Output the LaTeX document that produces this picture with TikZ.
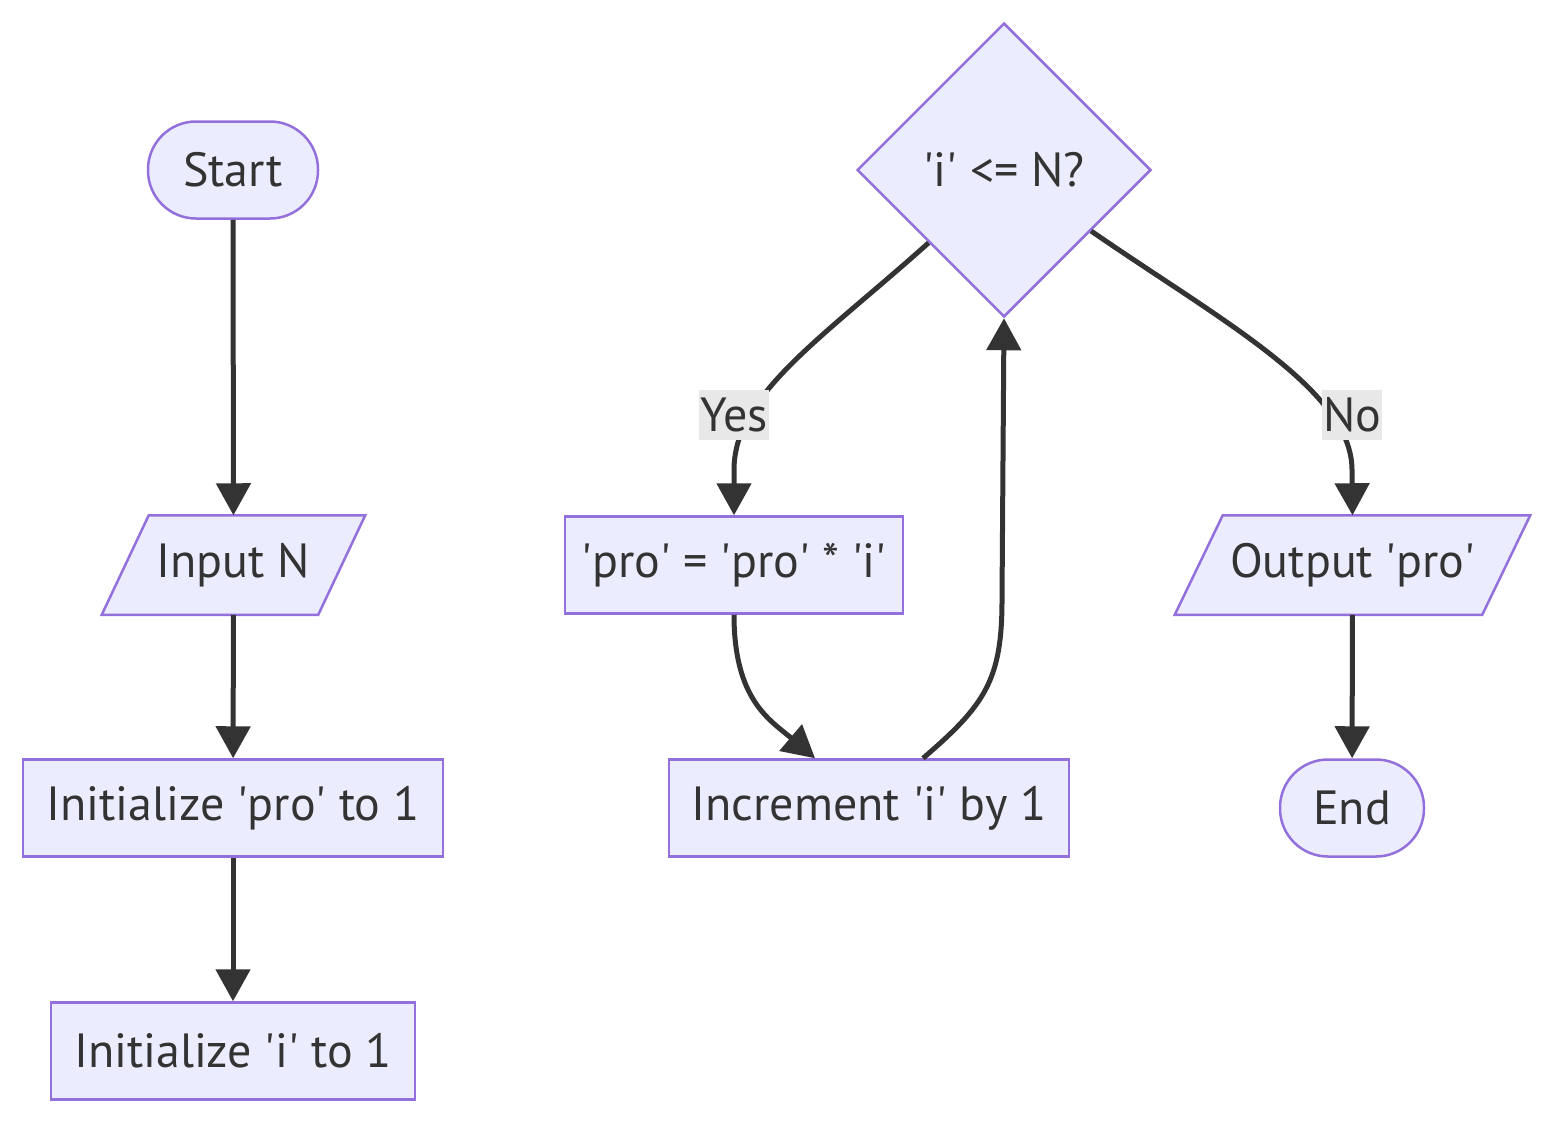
\documentclass[tikz,border=0pt]{standalone}
\usepackage{fontspec}
\setmainfont{PT Sans}
\usetikzlibrary{shapes.geometric,arrows.meta}
\definecolor{nodefill}{HTML}{ECECFF}
\definecolor{bord}{HTML}{9370DB}
\definecolor{txt}{HTML}{333333}
\definecolor{lblbg}{HTML}{E8E8E8}
\newcommand\sq{\textquotesingle}
\pgfdeclarelayer{bg}
\pgfsetlayers{bg,main}
\tikzset{
  base/.style={draw=bord, fill=nodefill, line width=2.5pt, text=txt, inner sep=0pt,
    font=\fontsize{48}{56}\selectfont, minimum height=97pt},
  box/.style={base, rectangle},
  term/.style={base, rectangle, rounded corners=48pt},
  para/.style={base, draw=none, fill=none, rectangle},
  parashape/.style={draw=bord, fill=nodefill, line width=2.5pt, line join=miter},
  dec/.style={base, diamond, minimum width=294pt, minimum height=294pt},
  edge/.style={draw=txt, line width=5pt, -{Triangle[length=32pt,width=34pt]}},
  lbl/.style={fill=lblbg, text=txt, inner xsep=1pt, inner ysep=0pt,
    font=\fontsize{48}{56}\selectfont, minimum height=50pt}
}
\begin{document}
\begin{tikzpicture}[x=1pt,y=-1pt]
\useasboundingbox (0,0) rectangle (1568,1136);
\node[term, minimum width=170pt] (start) at (233,170) {Start};
\node[para, minimum width=261pt] (inp) at (233.5,565) {Input N};
\node[box, minimum width=420pt] (ipro) at (233,808) {Initialize \sq pro\sq{} to 1};
\node[box, minimum width=364pt] (ii) at (233,1051) {Initialize \sq i\sq{} to 1};
\node[dec] (d) at (1004,170) {\sq i\sq{} <= N?};
\node[box, minimum width=338pt] (pro) at (734,565) {\sq pro\sq{} = \sq pro\sq{} * \sq i\sq};
\node[box, minimum width=400pt] (inc) at (869,808) {Increment \sq i\sq{} by 1};
\node[para, minimum width=353pt] (out) at (1352.5,565) {Output \sq pro\sq};
\node[term, minimum width=144pt] (end) at (1352,808) {End};

\begin{pgfonlayer}{bg}
\draw[parashape] (inp.south west) -- ([xshift=47pt]inp.north west) -- (inp.north east)
  -- ([xshift=-47pt]inp.south east) -- cycle;
\draw[parashape] (out.south west) -- ([xshift=48pt]out.north west) -- (out.north east)
  -- ([xshift=-48pt]out.south east) -- cycle;
\end{pgfonlayer}

\draw[edge] (start) -- (inp);
\draw[edge] (inp) -- (ipro);
\draw[edge] (ipro) -- (ii);
\draw[edge] (d.-136) .. controls (820,340) and (734,395) .. (734,470) -- (pro.north);
\draw[edge] (pro.south) .. controls (734,700) and (770,720) .. ([xshift=-54pt]inc.north);
\draw[edge] ([xshift=54pt]inc.north) .. controls (985,705) and (1002,680) .. (1002,600) -- (d.south);
\draw[edge] (d.-35) .. controls (1220,320) and (1352,390) .. (1352,470) -- (out.north);
\draw[edge] (out) -- (end);

\node[lbl] (yes) at (734,415) {Yes};
\node[lbl] (no) at (1352,415) {No};
\end{tikzpicture}
\end{document}
